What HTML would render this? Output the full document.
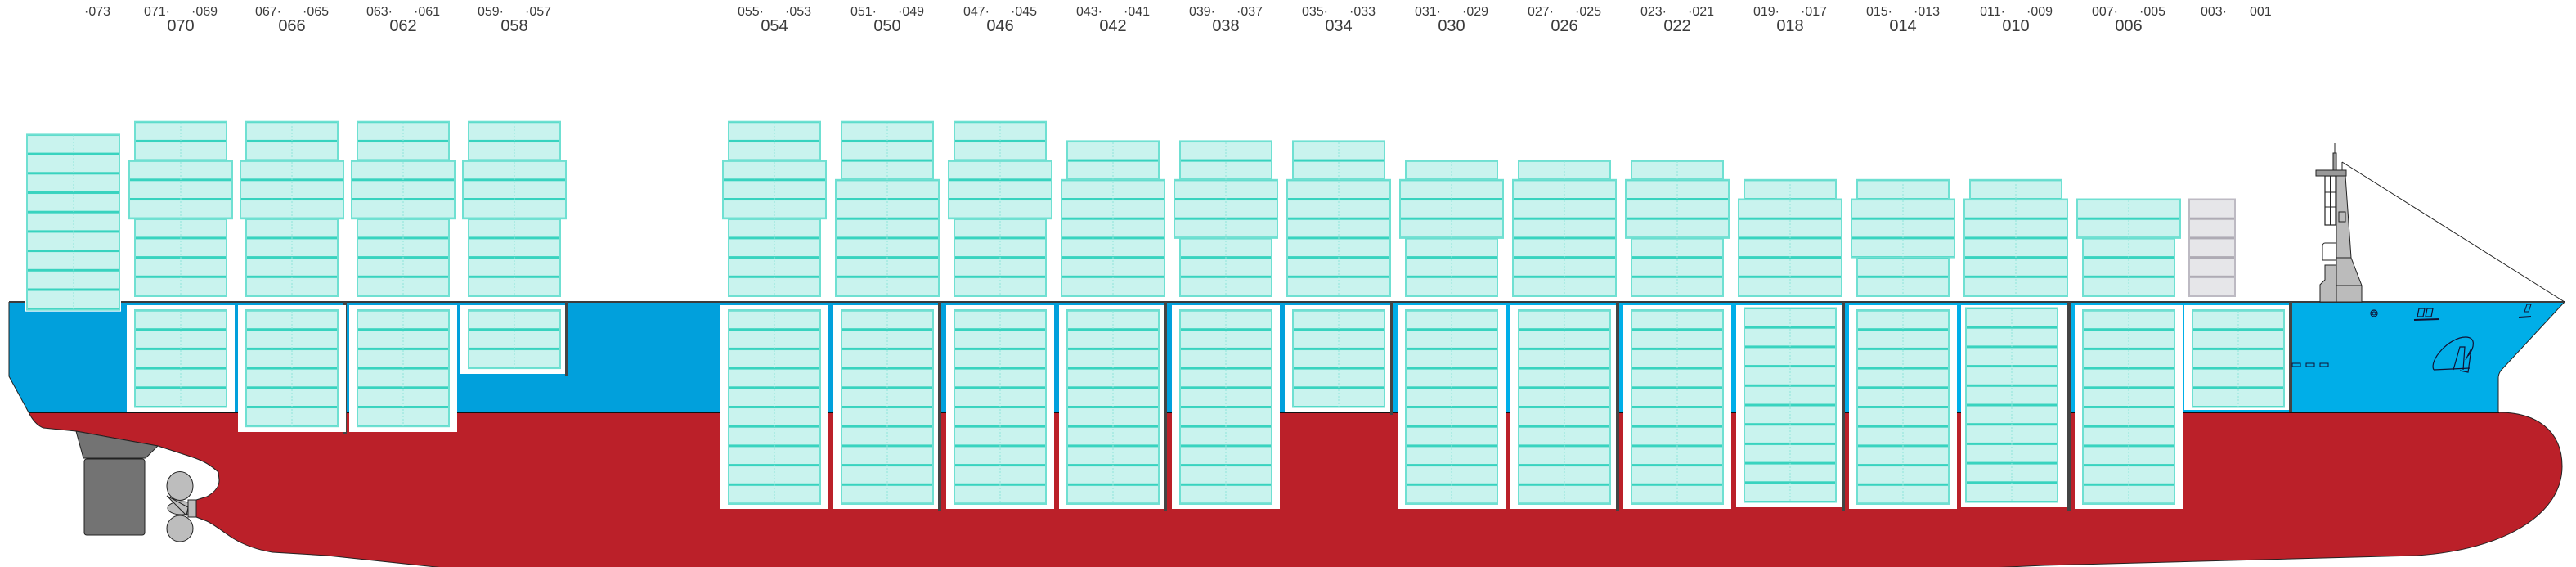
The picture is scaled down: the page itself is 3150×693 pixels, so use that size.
<!DOCTYPE html>
<html><head><meta charset="utf-8"><style>
html,body{margin:0;padding:0;background:#fff;}
svg{display:block;}
text{font-family:"Liberation Sans",sans-serif;fill:#3a3a3a;}
</style></head><body>
<svg width="3150" height="693" viewBox="0 0 3150 693" xmlns="http://www.w3.org/2000/svg">
<defs>
<pattern id="pd" patternUnits="userSpaceOnUse" x="0" y="360.5" width="10" height="23.7"><rect width="10" height="23.7" fill="#c9f3ee"/><rect width="10" height="3" fill="#38d3bf"/></pattern>
<pattern id="ph" patternUnits="userSpaceOnUse" x="0" y="377.5" width="10" height="23.7"><rect width="10" height="23.7" fill="#c9f3ee"/><rect width="10" height="3" fill="#38d3bf"/></pattern>
<pattern id="ps" patternUnits="userSpaceOnUse" x="0" y="375" width="10" height="23.7"><rect width="10" height="23.7" fill="#c9f3ee"/><rect width="10" height="3" fill="#38d3bf"/></pattern>
<pattern id="pt" patternUnits="userSpaceOnUse" x="0" y="162.9" width="10" height="23.7"><rect width="10" height="23.7" fill="#c9f3ee"/><rect width="10" height="3" fill="#38d3bf"/></pattern>
<pattern id="pg" patternUnits="userSpaceOnUse" x="0" y="360.5" width="10" height="23.7"><rect width="10" height="23.7" fill="#e6e6e9"/><rect width="10" height="3" fill="#aeabb4"/></pattern>
</defs>

<g font-size="16">
<text x="103" y="19">·073</text>
<text x="208" y="19" text-anchor="end">071·</text><text x="234" y="19">·069</text>
<text x="344" y="19" text-anchor="end">067·</text><text x="370" y="19">·065</text>
<text x="480" y="19" text-anchor="end">063·</text><text x="506" y="19">·061</text>
<text x="616" y="19" text-anchor="end">059·</text><text x="642" y="19">·057</text>
<text x="934" y="19" text-anchor="end">055·</text><text x="960" y="19">·053</text>
<text x="1072" y="19" text-anchor="end">051·</text><text x="1098" y="19">·049</text>
<text x="1210" y="19" text-anchor="end">047·</text><text x="1236" y="19">·045</text>
<text x="1348" y="19" text-anchor="end">043·</text><text x="1374" y="19">·041</text>
<text x="1486" y="19" text-anchor="end">039·</text><text x="1512" y="19">·037</text>
<text x="1624" y="19" text-anchor="end">035·</text><text x="1650" y="19">·033</text>
<text x="1762" y="19" text-anchor="end">031·</text><text x="1788" y="19">·029</text>
<text x="1900" y="19" text-anchor="end">027·</text><text x="1926" y="19">·025</text>
<text x="2038" y="19" text-anchor="end">023·</text><text x="2064" y="19">·021</text>
<text x="2176" y="19" text-anchor="end">019·</text><text x="2202" y="19">·017</text>
<text x="2314" y="19" text-anchor="end">015·</text><text x="2340" y="19">·013</text>
<text x="2452" y="19" text-anchor="end">011·</text><text x="2478" y="19">·009</text>
<text x="2590" y="19" text-anchor="end">007·</text><text x="2616" y="19">·005</text>
<text x="2723" y="19" text-anchor="end">003·</text><text x="2751" y="19">001</text>
</g>
<g font-size="20" text-anchor="middle">
<text x="221" y="38">070</text><text x="357" y="38">066</text><text x="493" y="38">062</text><text x="629" y="38">058</text>
<text x="947" y="38">054</text><text x="1085" y="38">050</text><text x="1223" y="38">046</text><text x="1361" y="38">042</text>
<text x="1499" y="38">038</text><text x="1637" y="38">034</text><text x="1775" y="38">030</text><text x="1913" y="38">026</text>
<text x="2051" y="38">022</text><text x="2189" y="38">018</text><text x="2327" y="38">014</text><text x="2465" y="38">010</text>
<text x="2603" y="38">006</text>
</g>

<path d="M35,504 L3056,504 C3100,504 3133,525 3133,570 C3133,630 3060,672 2956,679 L2500,691 L2300,700 L600,700 L400,679 L333,675 C315,672 300,667 285,658 C270,648 260,640 253,637 L240,632 L240,611 L253,607 C262,602 268,595 268,587 L267,577 C255,566 245,562 233,558 L193,545 L93,527 L53,523 C45,520 39,512 35,504 Z" fill="#bb2029" stroke="#222" stroke-width="1"/>
<path d="M11,369 L1700,369 L1700,504 L35,504 L11,460 Z" fill="#01a0dc"/>
<path d="M1700,369 L3136,369 L3058,453 C3056,456 3055,459 3055,462 L3055,504 L1700,504 Z" fill="#00aee8"/>
<path d="M11,369 L11,460 L35,504" fill="none" stroke="#222" stroke-width="1"/>
<path d="M3136,369 L3058,453 C3056,456 3055,459 3055,462 L3055,504" fill="none" stroke="#222" stroke-width="1"/>
<line x1="35" y1="504" x2="3056" y2="504" stroke="#111" stroke-width="2"/>
<line x1="11" y1="369" x2="3136" y2="369" stroke="#3c3c3c" stroke-width="2"/>

<polygon points="93,527 193,545 178,560 102,560" fill="#737373" stroke="#222" stroke-width="1"/>
<rect x="103" y="561" width="74" height="93" rx="3" fill="#737373" stroke="#222" stroke-width="1"/>
<ellipse cx="220" cy="594" rx="16" ry="17.5" fill="#bdbdbd" stroke="#222" stroke-width="1"/>
<ellipse cx="220" cy="646" rx="16" ry="16" fill="#bdbdbd" stroke="#222" stroke-width="1"/>
<ellipse cx="222" cy="621" rx="17" ry="8" fill="#bdbdbd" stroke="#222" stroke-width="1"/>
<path d="M204,606 L230,620 L228,630 Z" fill="#bdbdbd" stroke="#222" stroke-width="1"/>
<rect x="230" y="611" width="10" height="21" fill="#bdbdbd" stroke="#222" stroke-width="1"/>

<g fill="#444">
<rect x="420" y="369" width="4" height="161"/>
<rect x="691" y="369" width="4" height="91"/>
<rect x="1147" y="369" width="4" height="256"/>
<rect x="1423" y="369" width="4" height="256"/>
<rect x="1700" y="369" width="4" height="138"/>
<rect x="1976" y="369" width="4" height="256"/>
<rect x="2252" y="369" width="4" height="256"/>
<rect x="2528" y="369" width="4" height="256"/>
<rect x="2799" y="369" width="4" height="135"/>
</g>

<g fill="#fff">
<rect x="155" y="373" width="132" height="131"/>
<rect x="291" y="373" width="132" height="155"/>
<rect x="427" y="373" width="132" height="155"/>
<rect x="563" y="373" width="128" height="84"/>
<rect x="881" y="373" width="132" height="249"/>
<rect x="1019" y="373" width="128" height="249"/>
<rect x="1157" y="373" width="132" height="249"/>
<rect x="1295" y="373" width="128" height="249"/>
<rect x="1433" y="373" width="132" height="249"/>
<rect x="1571" y="373" width="129" height="131"/>
<rect x="1709" y="373" width="132" height="249"/>
<rect x="1847" y="373" width="129" height="249"/>
<rect x="1985" y="373" width="132" height="249"/>
<rect x="2123" y="373" width="129" height="247"/>
<rect x="2261" y="373" width="132" height="249"/>
<rect x="2398" y="373" width="130" height="247"/>
<rect x="2537" y="373" width="132" height="249"/>
<rect x="2671" y="373" width="128" height="128"/>
</g>
<g fill="url(#ph)" stroke="#6fe0d2" stroke-width="2">
<rect x="165" y="379" width="112" height="118.5"/>
<rect x="301" y="379" width="112" height="142.2"/>
<rect x="437" y="379" width="112" height="142.2"/>
<rect x="573" y="379" width="112" height="71.1"/>
<rect x="891" y="379" width="112" height="237"/>
<rect x="1029" y="379" width="112" height="237"/>
<rect x="1167" y="379" width="112" height="237"/>
<rect x="1305" y="379" width="112" height="237"/>
<rect x="1443" y="379" width="112" height="237"/>
<rect x="1581" y="379" width="112" height="118.5"/>
<rect x="1719" y="379" width="112" height="237"/>
<rect x="1857" y="379" width="112" height="237"/>
<rect x="1995" y="379" width="112" height="237"/>
<rect x="2271" y="379" width="112" height="237"/>
<rect x="2547" y="379" width="112" height="237"/>
<rect x="2681" y="379" width="112" height="118.5"/>
</g>
<g fill="url(#ps)" stroke="#6fe0d2" stroke-width="2">
<rect x="2133" y="376.5" width="112" height="237"/>
<rect x="2404" y="376.5" width="112" height="237"/>
</g>
<g stroke="#8fe6db" stroke-width="1" stroke-dasharray="2,2">
<line x1="221" y1="380" x2="221" y2="497"/>
<line x1="357" y1="380" x2="357" y2="521"/>
<line x1="493" y1="380" x2="493" y2="521"/>
<line x1="629" y1="380" x2="629" y2="450"/>
<line x1="947" y1="380" x2="947" y2="616"/>
<line x1="1085" y1="380" x2="1085" y2="616"/>
<line x1="1223" y1="380" x2="1223" y2="616"/>
<line x1="1361" y1="380" x2="1361" y2="616"/>
<line x1="1499" y1="380" x2="1499" y2="616"/>
<line x1="1637" y1="380" x2="1637" y2="497"/>
<line x1="1775" y1="380" x2="1775" y2="616"/>
<line x1="1913" y1="380" x2="1913" y2="616"/>
<line x1="2051" y1="380" x2="2051" y2="616"/>
<line x1="2189" y1="378" x2="2189" y2="613"/>
<line x1="2327" y1="380" x2="2327" y2="616"/>
<line x1="2460" y1="378" x2="2460" y2="613"/>
<line x1="2603" y1="380" x2="2603" y2="616"/>
<line x1="2737" y1="380" x2="2737" y2="497"/>
</g>

<rect x="31" y="162.4" width="117" height="218.3" fill="#fff"/>
<rect x="33" y="164.4" width="113" height="214.3" fill="url(#pt)" stroke="#6fe0d2" stroke-width="2"/>
<line x1="90" y1="165" x2="90" y2="378" stroke="#8fe6db" stroke-dasharray="2,2"/>
<g fill="url(#pd)" stroke="#6fe0d2" stroke-width="2">
<rect x="165" y="148.7" width="112" height="213.3"/><rect x="158" y="196.1" width="126" height="71.1"/>
<rect x="301" y="148.7" width="112" height="213.3"/><rect x="294" y="196.1" width="126" height="71.1"/>
<rect x="437" y="148.7" width="112" height="213.3"/><rect x="430" y="196.1" width="126" height="71.1"/>
<rect x="573" y="148.7" width="112" height="213.3"/><rect x="566" y="196.1" width="126" height="71.1"/>
<rect x="891" y="148.7" width="112" height="213.3"/><rect x="884" y="196.1" width="126" height="71.1"/>
<rect x="1029" y="148.7" width="112" height="213.3"/><rect x="1022" y="219.8" width="126" height="142.2"/>
<rect x="1167" y="148.7" width="112" height="213.3"/><rect x="1160" y="196.1" width="126" height="71.1"/>
<rect x="1305" y="172.4" width="112" height="189.6"/><rect x="1298" y="219.8" width="126" height="142.2"/>
<rect x="1443" y="172.4" width="112" height="189.6"/><rect x="1436" y="219.8" width="126" height="71.1"/>
<rect x="1581" y="172.4" width="112" height="189.6"/><rect x="1574" y="219.8" width="126" height="142.2"/>
<rect x="1719" y="196.1" width="112" height="165.9"/><rect x="1712" y="219.8" width="126" height="71.1"/>
<rect x="1857" y="196.1" width="112" height="165.9"/><rect x="1850" y="219.8" width="126" height="142.2"/>
<rect x="1995" y="196.1" width="112" height="165.9"/><rect x="1988" y="219.8" width="126" height="71.1"/>
<rect x="2133" y="219.8" width="112" height="142.2"/><rect x="2126" y="243.5" width="126" height="118.5"/>
<rect x="2271" y="219.8" width="112" height="142.2"/><rect x="2264" y="243.5" width="126" height="71.1"/>
<rect x="2409" y="219.8" width="112" height="142.2"/><rect x="2402" y="243.5" width="126" height="118.5"/>
<rect x="2547" y="243.5" width="112" height="118.5"/><rect x="2540" y="243.5" width="126" height="47.4"/>
</g>
<rect x="2677" y="243.5" width="56" height="118.5" fill="url(#pg)" stroke="#bdbac3" stroke-width="2"/>
<g stroke="#8fe6db" stroke-width="1" stroke-dasharray="2,2">
<line x1="221" y1="150" x2="221" y2="361"/><line x1="357" y1="150" x2="357" y2="361"/>
<line x1="493" y1="150" x2="493" y2="361"/><line x1="629" y1="150" x2="629" y2="361"/>
<line x1="947" y1="150" x2="947" y2="361"/><line x1="1085" y1="150" x2="1085" y2="361"/>
<line x1="1223" y1="150" x2="1223" y2="361"/><line x1="1361" y1="174" x2="1361" y2="361"/>
<line x1="1499" y1="174" x2="1499" y2="361"/><line x1="1637" y1="174" x2="1637" y2="361"/>
<line x1="1775" y1="197" x2="1775" y2="361"/><line x1="1913" y1="197" x2="1913" y2="361"/>
<line x1="2051" y1="197" x2="2051" y2="361"/><line x1="2189" y1="221" x2="2189" y2="361"/>
<line x1="2327" y1="221" x2="2327" y2="361"/><line x1="2465" y1="221" x2="2465" y2="361"/>
<line x1="2603" y1="245" x2="2603" y2="361"/>
</g>

<line x1="2864" y1="198" x2="3136" y2="369" stroke="#222" stroke-width="1"/>
<line x1="2864" y1="198" x2="2864" y2="208" stroke="#222" stroke-width="1"/>
<line x1="2855" y1="175" x2="2855" y2="187" stroke="#222" stroke-width="1"/>
<rect x="2853" y="187" width="4" height="21" fill="#999" stroke="#222" stroke-width="1"/>
<polygon points="2837,369 2837,348 2843,342 2843,324 2857,324 2857,215 2868,215 2875,315 2888,349 2888,369" fill="#bbb" stroke="#222" stroke-width="1"/>
<line x1="2857" y1="315" x2="2875" y2="315" stroke="#222"/>
<line x1="2857" y1="349" x2="2888" y2="349" stroke="#222"/>
<line x1="2857" y1="324" x2="2857" y2="369" stroke="#222"/>
<path d="M2857,297 L2843,297 C2841,297 2840,299 2840,301 L2840,318 L2857,318" fill="#fff" stroke="#222"/>
<rect x="2843" y="215" width="13" height="60" fill="#fff" stroke="#222" stroke-width="1.2"/>
<line x1="2849.5" y1="215" x2="2849.5" y2="275" stroke="#222"/>
<line x1="2843" y1="235" x2="2856" y2="235" stroke="#222"/><line x1="2843" y1="253" x2="2856" y2="253" stroke="#222"/>
<rect x="2860" y="259" width="8" height="12" fill="#bbb" stroke="#222"/>
<rect x="2832" y="208" width="37" height="7" fill="#999" stroke="#222" stroke-width="1"/>
<circle cx="2903" cy="383" r="4" fill="none" stroke="#113" stroke-width="1.2"/><circle cx="2903" cy="383" r="2" fill="none" stroke="#113"/>
<path d="M2958,377 L2965,377 L2963,387 L2956,387 Z M2968,377 L2975,377 L2973,387 L2966,387 Z" fill="none" stroke="#113" stroke-width="1.2"/>
<line x1="2952" y1="391" x2="2983" y2="390" stroke="#113" stroke-width="2"/>
<path d="M3090,372 L3095,372 L3092,381 L3087,381 Z" fill="none" stroke="#113"/>
<line x1="3080" y1="388" x2="3095" y2="387" stroke="#113" stroke-width="2"/>
<path d="M2976,452 C2970,440 2995,412 3015,412 C3028,412 3026,425 3018,435 M2976,452 L3020,450" fill="none" stroke="#113" stroke-width="1.2"/>
<path d="M3000,452 L3008,424 L3014,424 L3012,452 M3015,440 L3022,426 L3018,455 L3008,453" fill="none" stroke="#113" stroke-width="1.2"/>
<g fill="none" stroke="#113" stroke-width="1"><rect x="2803" y="444" width="10" height="4"/><rect x="2820" y="444" width="10" height="4"/><rect x="2837" y="444" width="10" height="4"/></g>
</svg>
</body></html>
